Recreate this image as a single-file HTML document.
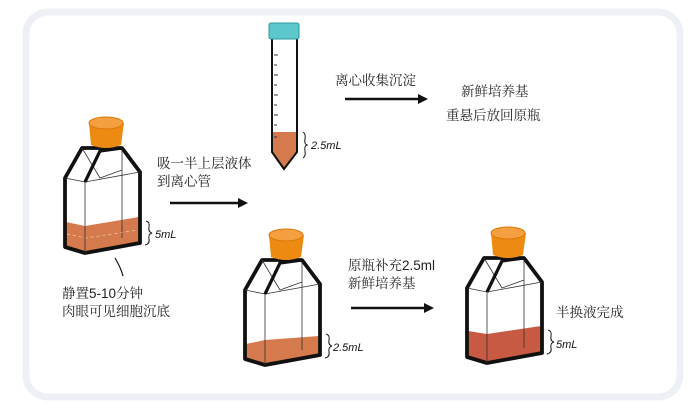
<!DOCTYPE html>
<html><head><meta charset="utf-8"><style>
html,body{margin:0;padding:0;background:#fff}
svg{display:block}
text{font-family:"Liberation Sans","Noto Serif CJK SC",serif;font-size:13.5px;fill:#222}
.h{font-family:"Liberation Sans",sans-serif;font-size:11px;fill:#111;font-style:italic}
</style></head><body>
<svg width="697" height="408" viewBox="0 0 697 408">
<rect x="26" y="12" width="654" height="385" rx="22" fill="#fff" stroke="#edf0f4" stroke-width="7"/>
<defs>
<g id="flask">
 <path d="M65,178 L82,148 L122,148 L140,172 L140,243 L85,253 L65,247 Z" fill="none" stroke="#111" stroke-width="3.8" stroke-linejoin="round"/>
 <path d="M65,178 L85,182 L140,172 M85,182 L85,253 M82,148 L100,178 L122,170 M122,150 L122,238" fill="none" stroke="#333" stroke-width="0.8"/>
 <path d="M85,182 L100,151 L122,148" fill="none" stroke="#111" stroke-width="3.2"/>
 <path d="M89,123 L91,145 Q106,151 121,145 L124,123 Z" fill="#ec8a12"/>
 <ellipse cx="106" cy="123" rx="17" ry="6" fill="#f5a040" stroke="#d87808" stroke-width="1"/>
</g>
</defs>
<path d="M66,222 L85,226 L139,217 L139,243 L85,252 L66,246 Z" fill="#d57a4c"/>
<path d="M67,234 L86,238 L138,230" fill="none" stroke="#f0c8a8" stroke-width="0.8" stroke-dasharray="3,3"/>
<use href="#flask"/>
<path d="M146,221 q4,1 3,6 q-1,5 3,6 q-4,1 -3,6 q1,5 -4,6" fill="none" stroke="#111" stroke-width="1"/>
<text class="h" x="155" y="238">5mL</text>
<path d="M115,258 q6,10 8,18" fill="none" stroke="#111" stroke-width="1.2"/>
<text x="62" y="298">静置5-10分钟</text>
<text x="62" y="316">肉眼可见细胞沉底</text>
<text x="157" y="168">吸一半上层液体</text>
<text x="157" y="186">到离心管</text>
<line x1="170" y1="203" x2="240" y2="203" stroke="#111" stroke-width="2.5"/>
<path d="M238,198 L248,203 L238,208 Z" fill="#111"/>
<path d="M273,132 L296,132 L296,152 L284,168 L273,152 Z" fill="#d57a4c"/>
<path d="M272,38 L272,152 L284,169 L297,152 L297,38" fill="none" stroke="#111" stroke-width="2"/>
<rect x="269" y="23" width="30" height="16" rx="2" fill="#5cc8cc" stroke="#2a9a9e" stroke-width="1"/>
<g stroke="#333" stroke-width="1">
<line x1="274" y1="55" x2="278" y2="55"/><line x1="274" y1="65" x2="277" y2="65"/><line x1="274" y1="75" x2="278" y2="75"/><line x1="274" y1="85" x2="277" y2="85"/><line x1="274" y1="95" x2="278" y2="95"/><line x1="274" y1="105" x2="277" y2="105"/><line x1="274" y1="115" x2="278" y2="115"/><line x1="274" y1="125" x2="277" y2="125"/><line x1="274" y1="137" x2="277" y2="137"/>
</g>
<path d="M303,132 q3,2 2,7 q-1,5 2,6 q-3,1 -2,6 q1,5 -2,7" fill="none" stroke="#111" stroke-width="1"/>
<text class="h" x="311" y="149">2.5mL</text>
<text x="335" y="85">离心收集沉淀</text>
<line x1="345" y1="99" x2="420" y2="99" stroke="#111" stroke-width="2.5"/>
<path d="M418,94 L428,99 L418,104 Z" fill="#111"/>
<text x="461" y="96">新鲜培养基</text>
<text x="446" y="120">重悬后放回原瓶</text>
<path d="M246,344 L265,340 L319,336 L319,355 L265,364 L246,358 Z" fill="#d57a4c"/>
<use href="#flask" transform="translate(180,112)"/>
<path d="M326,334 q4,1 3,6 q-1,5 3,6 q-4,1 -3,6 q1,5 -4,6" fill="none" stroke="#111" stroke-width="1"/>
<text class="h" x="333" y="351">2.5mL</text>
<text x="348" y="270">原瓶补充2.5ml</text>
<text x="348" y="288">新鲜培养基</text>
<line x1="351" y1="308" x2="426" y2="308" stroke="#111" stroke-width="2.5"/>
<path d="M424,303 L434,308 L424,313 Z" fill="#111"/>
<path d="M468,331 L487,334 L541,326 L541,353 L487,362 L468,356 Z" fill="#c85a44"/>
<use href="#flask" transform="translate(402,110)"/>
<path d="M548,330 q4,1 3,6 q-1,5 3,6 q-4,1 -3,6 q1,5 -4,6" fill="none" stroke="#111" stroke-width="1"/>
<text class="h" x="556" y="348">5mL</text>
<text x="556" y="317">半换液完成</text>
</svg>
</body></html>
